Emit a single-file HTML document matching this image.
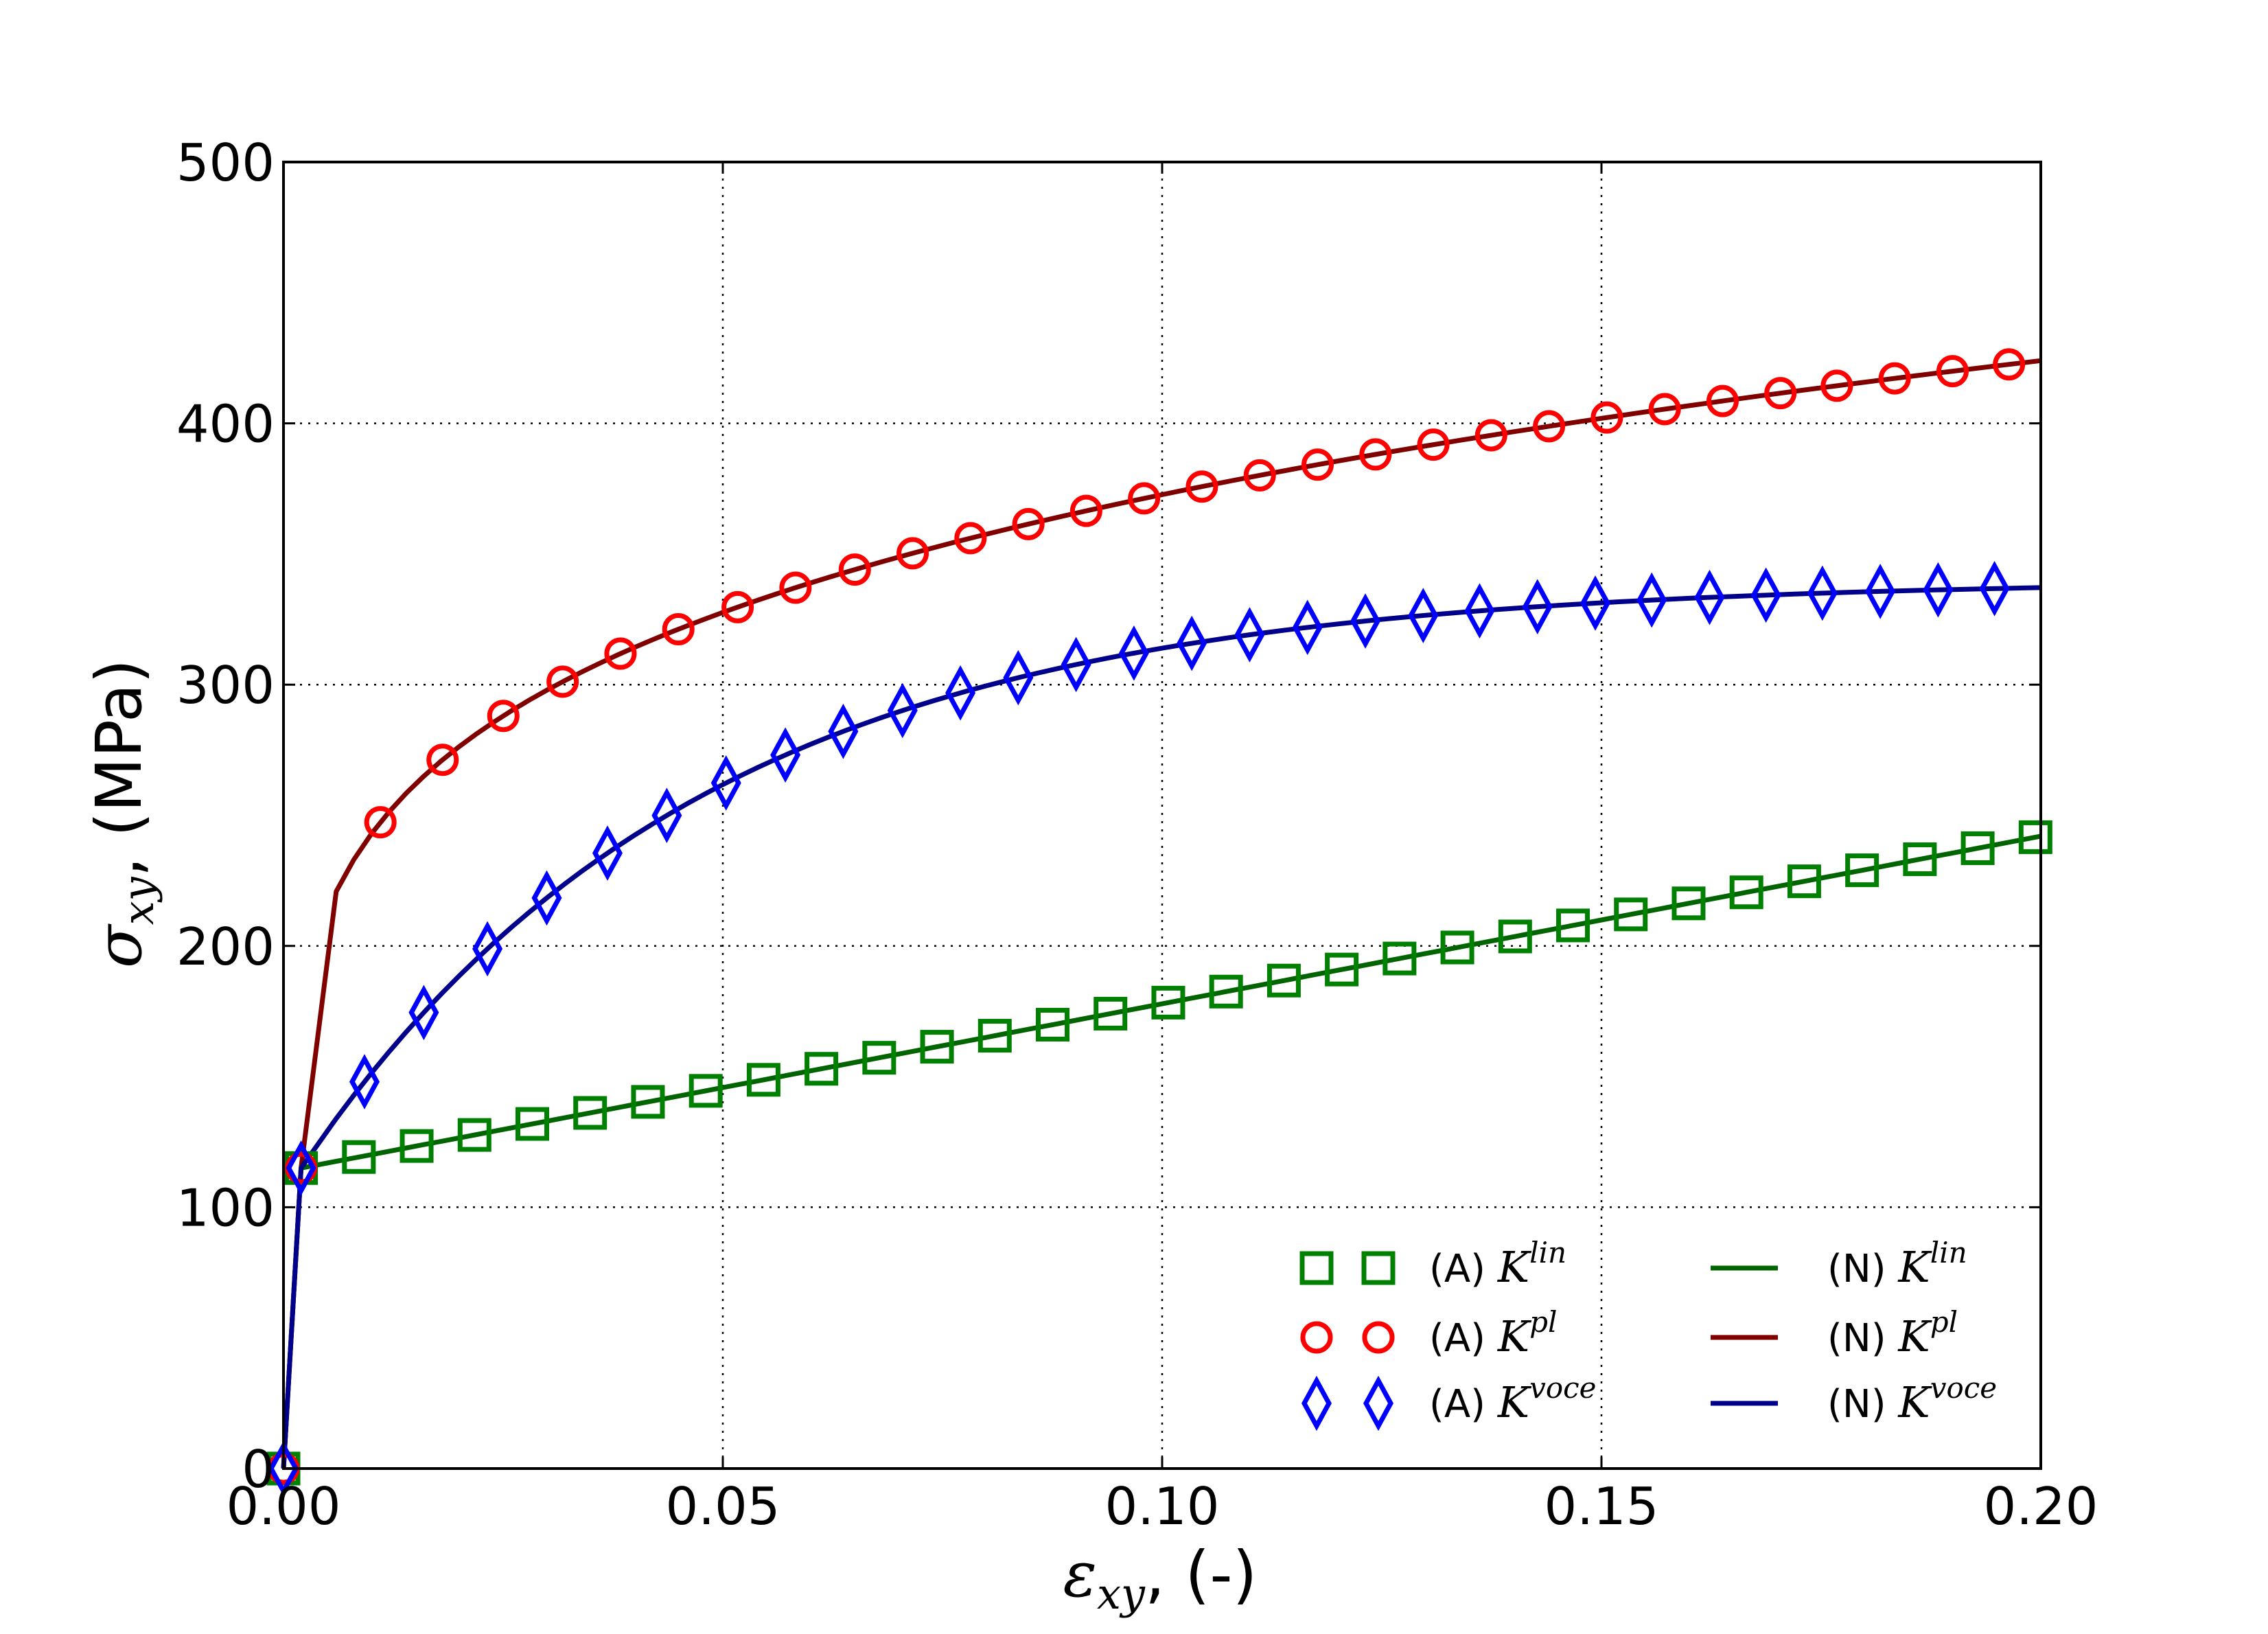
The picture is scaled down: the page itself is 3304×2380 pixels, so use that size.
<!DOCTYPE html>
<html><head><meta charset="utf-8"><style>
html,body{margin:0;padding:0;background:#fff;width:3304px;height:2380px;overflow:hidden}
svg{display:block}
text{font-family:"DejaVu Sans","Liberation Sans",sans-serif;fill:#000}
.m{font-family:"DejaVu Serif","Liberation Serif",serif;font-style:italic}
</style></head><body>
<svg id="s" width="3304" height="2380" viewBox="0 0 3304 2380" xmlns="http://www.w3.org/2000/svg">
<rect width="3304" height="2380" fill="#fff"/>
<g id="grid" stroke="#000" stroke-width="2.5" stroke-dasharray="3,9"></g>
<g id="curves" fill="none" stroke-width="7" stroke-linejoin="round"></g>
<g id="marks" fill="none" stroke-width="7"></g>
<rect x="413" y="236" width="2560" height="1903" fill="none" stroke="#000" stroke-width="4"/>
<g id="ticks" stroke="#000" stroke-width="3"></g>
<g id="labels" font-size="75"></g>
<text x="1690" y="2325" font-size="92" text-anchor="middle"><tspan class="m">ε</tspan><tspan class="m" font-size="62" dy="18">xy</tspan><tspan dy="-18">, (-)</tspan></text>
<text transform="translate(205,1185) rotate(-90)" font-size="92" text-anchor="middle"><tspan class="m">σ</tspan><tspan class="m" font-size="62" dy="18">xy</tspan><tspan dy="-18">, (MPa)</tspan></text>
<g id="legend" font-size="56"></g>
</svg>
<script>
var NS="http://www.w3.org/2000/svg";
function el(p,t,a,txt){var e=document.createElementNS(NS,t);for(var k in a)e.setAttribute(k,a[k]);if(txt!==undefined)e.textContent=txt;document.getElementById(p).appendChild(e);return e;}
var L=413,R=2973,T=236,B=2139;
function X(e){return L+e/0.2*(R-L);}
function Y(s){return B-s/500*(B-T);}
for(var i=0;i<=4;i++){var x=X(i*0.05);
 if(i>0&&i<4)el("grid","line",{x1:x,y1:T,x2:x,y2:B});
 el("ticks","line",{x1:x,y1:B,x2:x,y2:B-17});el("ticks","line",{x1:x,y1:T,x2:x,y2:T+17});
 el("labels","text",{x:x,y:2220,"text-anchor":"middle"},(i*0.05).toFixed(2));}
for(var i=0;i<=5;i++){var y=Y(i*100);
 if(i>0&&i<5)el("grid","line",{x1:L,y1:y,x2:R,y2:y});
 el("ticks","line",{x1:L,y1:y,x2:L+17,y2:y});el("ticks","line",{x1:R,y1:y,x2:R-17,y2:y});
 el("labels","text",{x:400,y:y+27,"text-anchor":"end"},String(i*100));}
function lin(e){return e<0.002?e/0.002*115:115+(e-0.002)*(127/0.198);}
function pl(e){if(e<0.002)return e/0.002*115;if(e<0.006)return 115+(e-0.002)/0.004*(424*Math.pow(0.03,0.186)-115);return 424*Math.pow(e/0.2,0.186);}
function voce(e){if(e<0.002)return e/0.002*115;return 115+225*(1-Math.exp(-22*(e-0.002)));}
function path(f,c){var d="M"+X(0)+","+Y(0);var es=[0.002,0.006];for(var e=0.008;e<=0.2001;e+=0.002)es.push(e);
 es.forEach(function(e){d+=" L"+X(e).toFixed(1)+","+Y(f(e)).toFixed(1);});el("curves","path",{d:d,stroke:c});}
path(lin,"#006400");path(pl,"#800000");path(voce,"#00008b");
function sq(x,y){el("marks","rect",{x:x-21,y:y-21,width:42,height:42,stroke:"#008000"});}
function ci(x,y){el("marks","circle",{cx:x,cy:y,r:20,stroke:"#ff0000"});}
function di(x,y){el("marks","path",{d:"M"+x+","+(y-33)+" L"+(x+18)+","+y+" L"+x+","+(y+33)+" L"+(x-18)+","+y+"Z",stroke:"#0000ff"});}
function dx(p){return (p-196)/1215*0.2;}
sq(X(0),Y(0));ci(X(0),Y(0));di(X(0),Y(0));
for(var i=0;i<=30;i++){var e=0.002+i*0.00658;sq(X(e),Y(lin(e)));}
[208,263,306,348,389,429,469,510,550,591,631,671,711,751,791,831,871,911,951,991,1031,1071,1111,1151,1191,1231,1270,1310,1350,1389].forEach(function(p){var e=p==208?0.002:dx(p);ci(X(e),Y(pl(e)));});
[208,252,293,337,378,420,461,502,543,583,624,664,704,744,784,824,864,904,944,984,1023,1063,1103,1142,1182,1221,1260,1300,1340,1379].forEach(function(p){var e=p==208?0.002:dx(p);di(X(e),Y(voce(e)));});
var rows=[1847,1948,2044],lc=["#006400","#800000","#00008b"],sup=["lin","pl","voce"];
for(var r=0;r<3;r++){var y=rows[r];
 [1918,2008].forEach(function(x){if(r==0)sq(x,y);else if(r==1)ci(x,y);else di(x,y);});
 el("legend","line",{x1:2492,y1:y,x2:2590,y2:y,stroke:lc[r],"stroke-width":7});
 ["A","N"].forEach(function(n,j){var t=el("legend","text",{x:j?2662:2082,y:y+20});
  var a=document.createElementNS(NS,"tspan");a.textContent="("+n+") ";t.appendChild(a);
  var k=document.createElementNS(NS,"tspan");k.setAttribute("class","m");k.setAttribute("font-size","62");k.textContent="K";t.appendChild(k);
  var s=document.createElementNS(NS,"tspan");s.setAttribute("class","m");s.setAttribute("font-size","42");s.setAttribute("dy","-28");s.textContent=sup[r];t.appendChild(s);});}
</script>
</body></html>
